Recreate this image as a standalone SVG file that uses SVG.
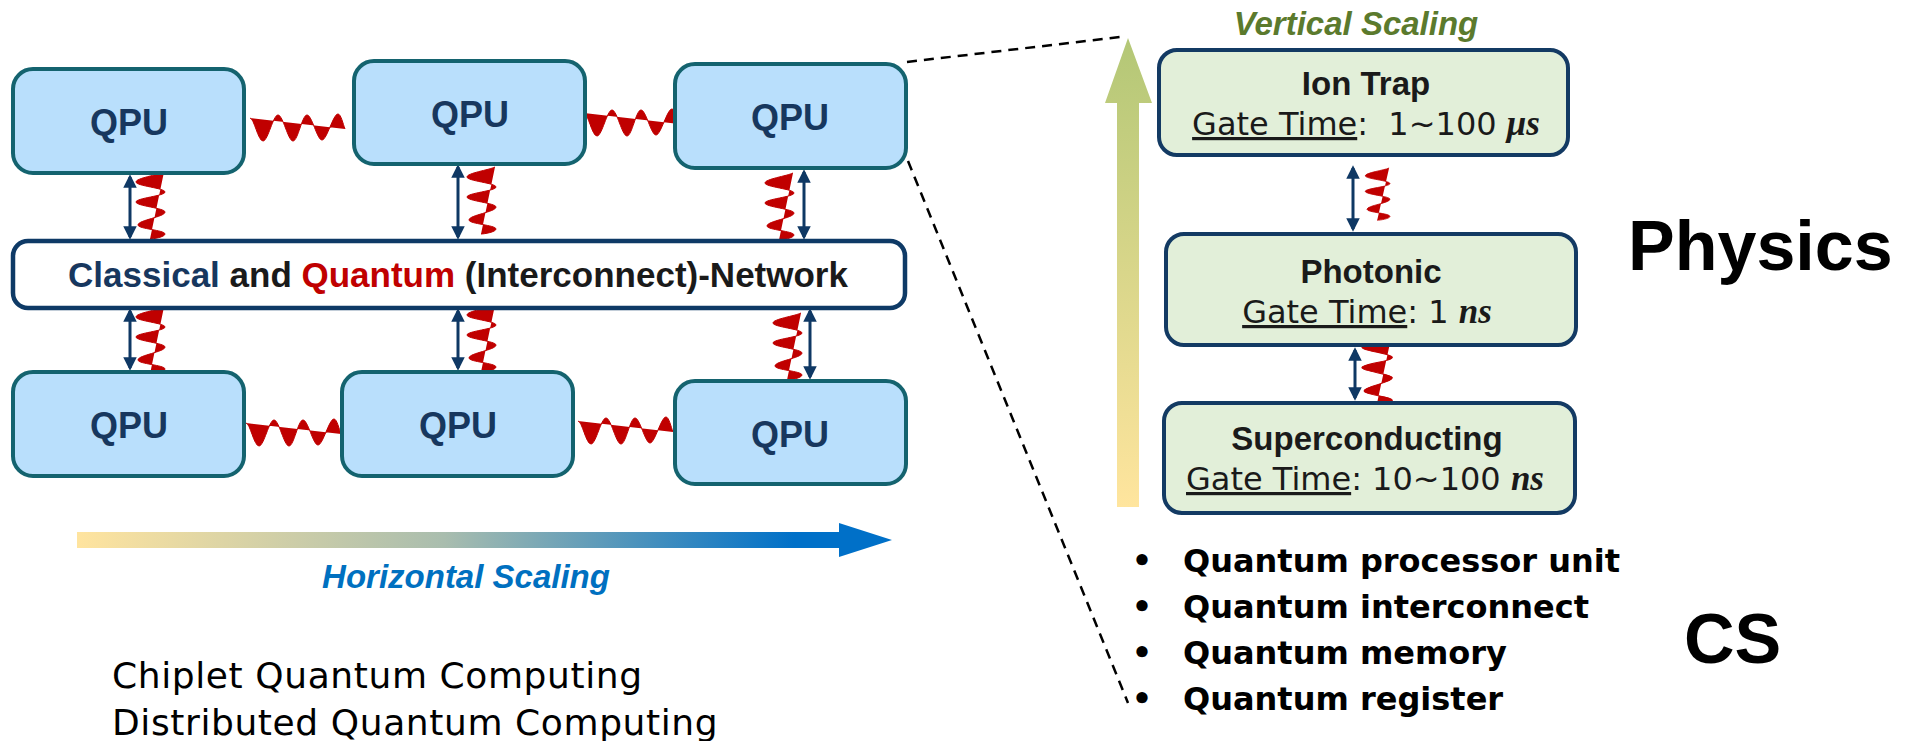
<svg xmlns="http://www.w3.org/2000/svg" width="1908" height="741" viewBox="0 0 1908 741">
<style>
.qpu{fill:#B9DFFC;stroke:#14636F;stroke-width:4}
.qt{font-family:"Liberation Sans",Arial,sans-serif;font-weight:bold;font-size:36px;fill:#17375E;text-anchor:middle}
.net{fill:#FFFFFF;stroke:#0E3A66;stroke-width:4.5}
.phys{fill:#E2EFD9;stroke:#133A63;stroke-width:4}
.ttl{font-family:"Liberation Sans",Arial,sans-serif;font-weight:bold;font-size:33px;fill:#1A1A1A;text-anchor:middle}
.gt{font-family:"DejaVu Sans",sans-serif;font-size:32px;fill:#1A1A1A;text-anchor:middle;white-space:pre}
.m{font-family:"Liberation Serif",serif;font-weight:bold;font-style:italic;font-size:35px}
.arr{stroke:#0F3864;stroke-width:3;fill:none;marker-start:url(#ah);marker-end:url(#ah)}
.wave{fill:#C00000;stroke:#C00000;stroke-width:1}
.dash{stroke:#000;stroke-width:2.5;stroke-dasharray:10 7;fill:none}
.bul{font-family:"DejaVu Sans",sans-serif;font-weight:bold;font-size:32px;fill:#000}
.big{font-family:"Liberation Sans",Arial,sans-serif;font-weight:bold;font-size:70px;fill:#000}
.foot{font-family:"DejaVu Sans",sans-serif;font-size:36px;fill:#000;letter-spacing:0.6px}
.scl{font-family:"Liberation Sans",Arial,sans-serif;font-weight:bold;font-style:italic;font-size:33px;text-anchor:middle}
</style>
<defs>
<marker id="ah" viewBox="0 0 10 10" refX="8" refY="5" markerWidth="4.5" markerHeight="4.5" orient="auto-start-reverse" markerUnits="strokeWidth">
<path d="M0,0 L10,5 L0,10 z" fill="#0F3864"/>
</marker>
<path id="wh" d="M0,0 C4,0 8,23 13,23 C18,23 23,-3 28,-3 C33,-3 38,23 43,23 C48,23 52,-3 57,-3 C62,-3 67,22 72,22 C77,22 83,-4 88,-4 C91,-4 93,6 95,11"/>
<path id="wv" d="M26,0 C20,3 -2,6 -2,10 C-2,14 27,16 27,20 C27,24 -2,26 -2,30 C-2,34 27,36 27,40 C27,45 0,48 0,53 C0,57 27,58 27,62 C27,65 15,67 12,67"/>
<linearGradient id="gh" x1="0" y1="0" x2="1" y2="0">
<stop offset="0" stop-color="#FFE49F"/>
<stop offset="0.45" stop-color="#A9BDAE"/>
<stop offset="0.88" stop-color="#0070C8"/>
<stop offset="1" stop-color="#0070C8"/>
</linearGradient>
<linearGradient id="gv" x1="0" y1="0" x2="0" y2="1">
<stop offset="0" stop-color="#B3C776"/>
<stop offset="1" stop-color="#FFE59E"/>
</linearGradient>
</defs>

<g id="connectors">
<line class="dash" x1="907" y1="62" x2="1120" y2="37"/>
<line class="dash" x1="908" y1="161" x2="1128" y2="703"/>
<line class="arr" x1="130" y1="177" x2="130" y2="237"/>
<line class="arr" x1="458" y1="167" x2="458" y2="237"/>
<line class="arr" x1="804" y1="172" x2="804" y2="237"/>
<line class="arr" x1="130" y1="311" x2="130" y2="368"/>
<line class="arr" x1="458" y1="311" x2="458" y2="368"/>
<line class="arr" x1="810" y1="311" x2="810" y2="377"/>
<line class="arr" x1="1353" y1="168" x2="1353" y2="229"/>
<line class="arr" x1="1355" y1="350" x2="1355" y2="398"/>
<use href="#wh" class="wave" transform="translate(250,118)"/>
<use href="#wh" class="wave" transform="translate(584,113)"/>
<use href="#wh" class="wave" transform="translate(246,423)"/>
<use href="#wh" class="wave" transform="translate(578,421)"/>
<use href="#wv" class="wave" transform="translate(138,172)"/>
<use href="#wv" class="wave" transform="translate(469,167)"/>
<use href="#wv" class="wave" transform="translate(767,173)"/>
<use href="#wv" class="wave" transform="translate(138,307)"/>
<use href="#wv" class="wave" transform="translate(469,305)"/>
<use href="#wv" class="wave" transform="translate(775,313)"/>
<use href="#wv" class="wave" transform="translate(1367,168) scale(0.85,0.78)"/>
<use href="#wv" class="wave" transform="translate(1364,337) scale(1.05,1.02)"/>
</g>

<g id="qpu1"><rect class="qpu" x="13" y="69" width="231" height="104" rx="20"/><text class="qt" x="129" y="135">QPU</text></g>
<g id="qpu2"><rect class="qpu" x="354" y="61" width="231" height="103" rx="20"/><text class="qt" x="470" y="127">QPU</text></g>
<g id="qpu3"><rect class="qpu" x="675" y="64" width="231" height="104" rx="20"/><text class="qt" x="790" y="130">QPU</text></g>
<g id="qpu4"><rect class="qpu" x="13" y="372" width="231" height="104" rx="20"/><text class="qt" x="129" y="438">QPU</text></g>
<g id="qpu5"><rect class="qpu" x="342" y="372" width="231" height="104" rx="20"/><text class="qt" x="458" y="438">QPU</text></g>
<g id="qpu6"><rect class="qpu" x="675" y="381" width="231" height="103" rx="20"/><text class="qt" x="790" y="447">QPU</text></g>

<g id="network">
<rect class="net" x="13" y="241" width="892" height="67" rx="15"/>
<text x="458" y="287" style="font-family:'Liberation Sans',Arial,sans-serif;font-weight:bold;font-size:35px;text-anchor:middle"><tspan fill="#17375E">Classical</tspan><tspan fill="#1A1A1A"> and </tspan><tspan fill="#C00000">Quantum</tspan><tspan fill="#1A1A1A"> (Interconnect)-Network</tspan></text>
</g>

<g id="horizontal-scaling">
<polygon points="77,532 839,532 839,523 892,540 839,557 839,548 77,548" fill="url(#gh)"/>
<text class="scl" x="466" y="588" fill="#0070C0">Horizontal Scaling</text>
</g>

<g id="vertical-scaling">
<polygon points="1117,507 1139,507 1139,103 1152,103 1128,38 1105,103 1117,103" fill="url(#gv)"/>
<text class="scl" x="1356" y="35" fill="#5B7A2D">Vertical Scaling</text>
</g>

<g id="ion-trap">
<rect class="phys" x="1159" y="50" width="409" height="105" rx="18"/>
<text class="ttl" x="1366" y="95">Ion Trap</text>
<text class="gt" x="1366" y="135"><tspan text-decoration="underline">Gate Time</tspan>:  1~100 <tspan class="m">μs</tspan></text>
</g>
<g id="photonic">
<rect class="phys" x="1166" y="234" width="410" height="111" rx="18"/>
<text class="ttl" x="1371" y="283">Photonic</text>
<text class="gt" x="1367" y="323"><tspan text-decoration="underline">Gate Time</tspan>: 1 <tspan class="m">ns</tspan></text>
</g>
<g id="superconducting">
<rect class="phys" x="1164" y="403" width="411" height="110" rx="18"/>
<text class="ttl" x="1367" y="450">Superconducting</text>
<text class="gt" x="1365" y="490"><tspan text-decoration="underline">Gate Time</tspan>: 10~100 <tspan class="m">ns</tspan></text>
</g>

<g id="physics-label"><text class="big" x="1628" y="270">Physics</text></g>
<g id="cs-label"><text class="big" x="1684" y="663">CS</text></g>

<g id="cs-list">
<text class="bul" x="1142" y="572" text-anchor="middle">•</text><text class="bul" x="1183" y="572">Quantum processor unit</text>
<text class="bul" x="1142" y="618" text-anchor="middle">•</text><text class="bul" x="1183" y="618">Quantum interconnect</text>
<text class="bul" x="1142" y="664" text-anchor="middle">•</text><text class="bul" x="1183" y="664">Quantum memory</text>
<text class="bul" x="1142" y="710" text-anchor="middle">•</text><text class="bul" x="1183" y="710">Quantum register</text>
</g>

<g id="footer">
<text class="foot" x="112" y="688">Chiplet Quantum Computing</text>
<text class="foot" x="112" y="735">Distributed Quantum Computing</text>
</g>
</svg>
